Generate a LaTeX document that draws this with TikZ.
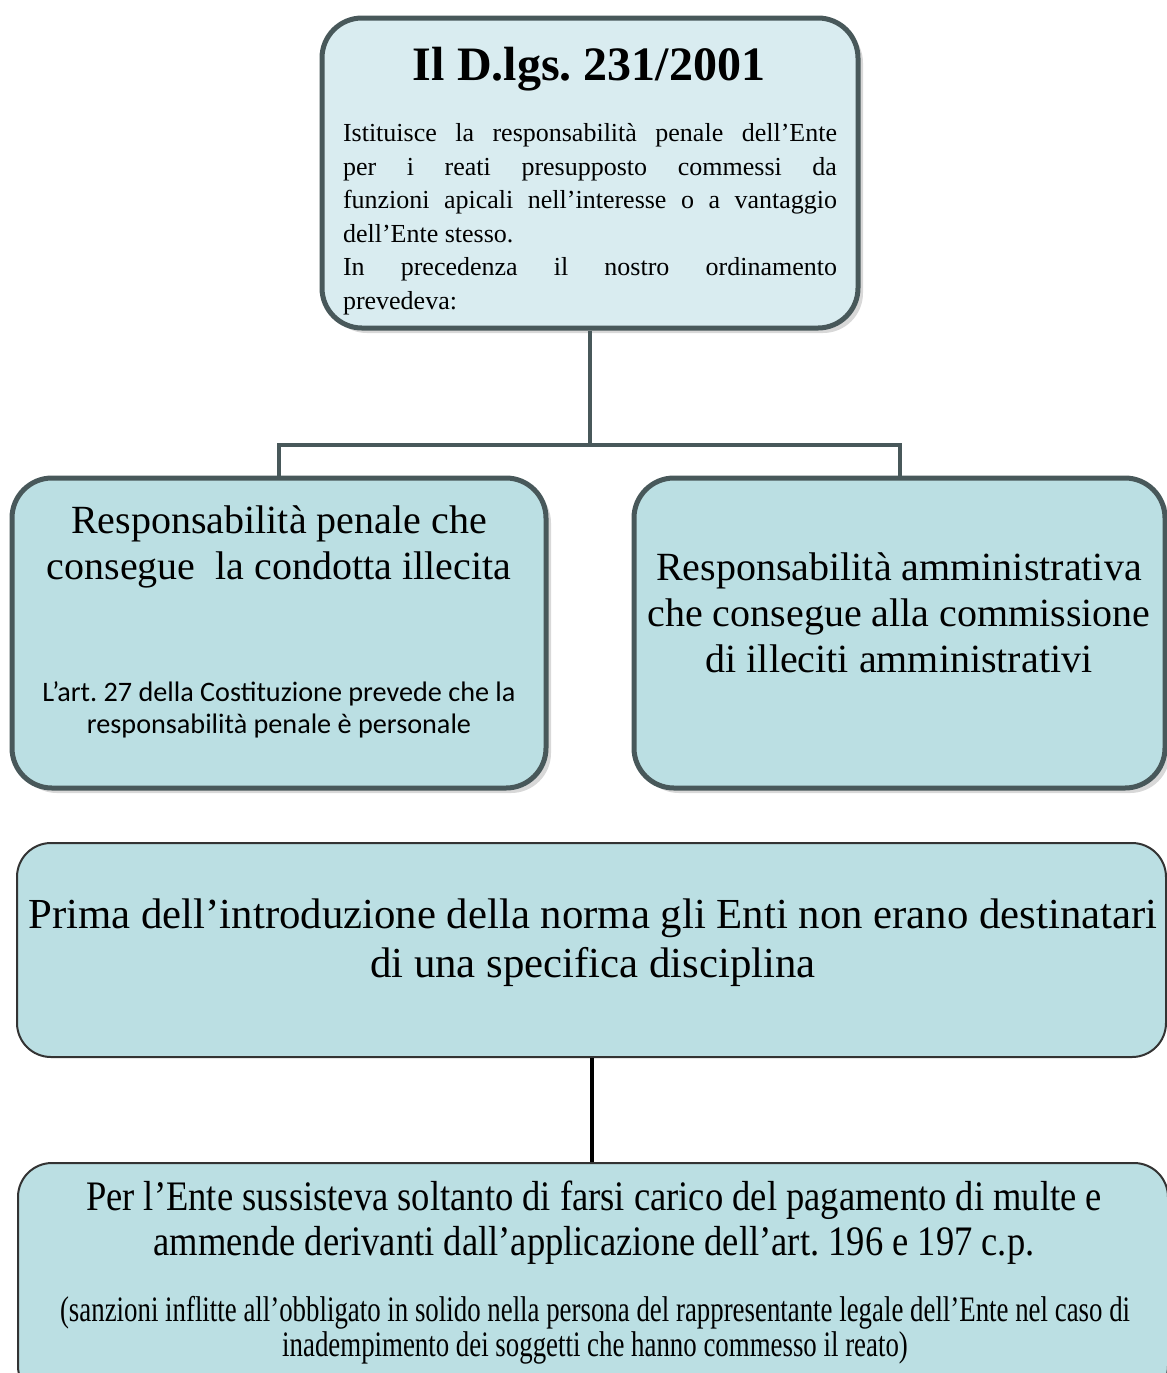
\documentclass[tikz,border=0pt]{standalone}
\usepackage{fontspec}
\setmainfont{Liberation Serif}
\newfontfamily\narrowfont[FakeStretch=0.87]{Liberation Serif}
\newfontfamily\tinyfont[FakeStretch=0.75]{Liberation Serif}
\newfontfamily\notefont{Carlito}
\usetikzlibrary{shapes,shadows}
\definecolor{boxline}{RGB}{72,88,90}
\definecolor{boxfill}{RGB}{187,223,227}
\definecolor{topfill}{RGB}{217,236,240}
\frenchspacing

\begin{document}
\begin{tikzpicture}[x=0.5pt,y=-0.5pt,
      every node/.append style={align=center,inner sep=0pt},
      thickbox/.style={draw=boxline,line width=2.5pt,rounded corners=20pt,fill=boxfill,
        drop shadow={shadow xshift=2.5pt,shadow yshift=-2.5pt,fill=black!30}},
      thinbox/.style={draw=black!80,line width=1pt,rounded corners=17pt,fill=boxfill}]
    \tikzstyle{conn} = [draw=boxline,line width=2pt]
    \clip (0,0) rectangle (1167,1373);
    \fill[white] (0,0) rectangle (1167,1373);
    \node (law) [thickbox,fill=topfill,minimum width=268pt,minimum height=155pt] at (590,173) {};
    \node (penal) [thickbox,minimum width=267pt,minimum height=155pt] at (279,633) {};
    \node (admin) [thickbox,minimum width=265.5pt,minimum height=155pt] at (899.5,633) {};
    \node (before) [thinbox,minimum width=574.5pt,minimum height=107pt] at (591.5,950) {};
    \node (fines) [thinbox,minimum width=575pt,minimum height=118.5pt] at (593,1281.5) {};
    \coordinate (fork) at (590,445);
    \draw[conn] (law.south) -- (fork);
    \draw[conn] (fork) -| (penal.north);
    \draw[conn] (fork) -| (admin.north);
    \draw[line width=2pt] (before.south) -- (before.south |- fines.north);
    \node (law_title) [font=\fontsize{24}{28}\selectfont\bfseries] at (589,69) {Il D.lgs. 231/2001};
    \node (law_text) [text width=247pt,align=justify,font=\fontsize{13}{16.75}\selectfont] at (590,219)
      {Istituisce la responsabilità penale dell’Ente\linebreak
       per i reati presupposto commessi da\linebreak
       funzioni apicali nell’interesse o a vantaggio\linebreak
       dell’Ente stesso.\par
       In precedenza il nostro ordinamento\linebreak prevedeva:};
    \node (penal_title) [font=\fontsize{20}{23}\selectfont] at (279,547) {Responsabilità penale che\\ consegue \ la condotta illecita};
    \node (penal_note) [font=\notefont\fontsize{14.1}{16}\selectfont] at (279,710) {L’art. 27 della Costituzione prevede che la\\ responsabilità penale è personale};
    \node (admin_title) [font=\fontsize{20}{23}\selectfont] at (899,613) {Responsabilità amministrativa\\ che consegue alla commissione\\ di illeciti amministrativi};
    \node (before_text) [font=\fontsize{21.4}{24.5}\selectfont] at (593,943) {Prima dell’introduzione della norma gli Enti non erano destinatari\\ di una specifica disciplina};
    \node (fines_text) [font=\narrowfont\fontsize{21}{22.5}\selectfont] at (594,1223) {Per l’Ente sussisteva soltanto di farsi carico del pagamento di multe e\\ ammende derivanti dall’applicazione dell’art. 196 e 197 c.p.};
    \node (fines_note) [font=\tinyfont\fontsize{17.9}{15}\selectfont] at (595,1330) {(sanzioni inflitte all’obbligato in solido nella persona del rappresentante legale dell’Ente nel caso di\\ inadempimento dei soggetti che hanno commesso il reato)};
\end{tikzpicture}
\end{document}
